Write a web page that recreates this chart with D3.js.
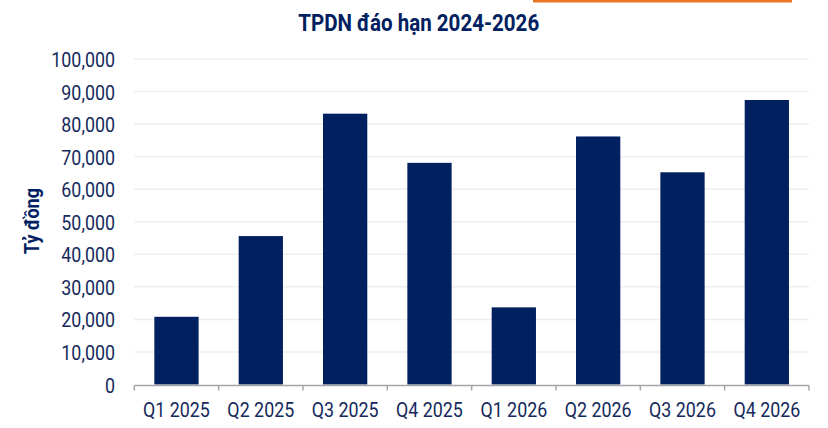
<!DOCTYPE html>
<html>
<head>
<meta charset="utf-8">
<script src="https://cdn.jsdelivr.net/npm/d3@7"></script>
<style>
  html, body { margin: 0; padding: 0; background: #ffffff; }
  svg { display: block; }
  text { font-family: Roboto, "Noto Sans", sans-serif; }
</style>
</head>
<body>
<svg id="chart" width="828" height="428"></svg>
<script>
const categories = ["Q1 2025", "Q2 2025", "Q3 2025", "Q4 2025", "Q1 2026", "Q2 2026", "Q3 2026", "Q4 2026"];
const values = [20800, 45600, 83200, 68100, 23700, 76200, 65200, 87400];
const yTicks = [0, 10000, 20000, 30000, 40000, 50000, 60000, 70000, 80000, 90000, 100000];
const chartTitle = "TPDN đáo hạn 2024-2026";
const yTitle = "Tỷ đồng";

(function () {
const svg = d3.select("#chart");
const mLeft = 134.3, mRight = 809, mTop = 59, mBottom = 384.5;
const navy = "#002060";
const textColor = "#14295C";

function condense(sel, ratio) {
  sel.each(function () {
    const len = this.getComputedTextLength();
    d3.select(this).attr("textLength", len * ratio).attr("lengthAdjust", "spacingAndGlyphs");
  });
}

// orange decorative line
svg.append("rect").attr("x", 533).attr("y", 0).attr("width", 259).attr("height", 2.5).attr("fill", "#E87722");

const x = d3.scaleBand().domain(categories).range([mLeft, mRight]).paddingInner(0.475).paddingOuter(0.2375);
const y = d3.scaleLinear().domain([0, 100000]).range([mBottom, mTop]);

// gridlines
svg.append("g").selectAll("line").data(yTicks.filter(d => d > 0)).join("line")
  .attr("x1", mLeft).attr("x2", mRight)
  .attr("y1", d => y(d)).attr("y2", d => y(d))
  .attr("stroke", "#EEEEEE").attr("stroke-width", 1.5);

// y axis labels
const yAxis = d3.axisLeft(y).tickValues(yTicks).tickFormat(d3.format(",")).tickSize(0).tickPadding(0);
const gy = svg.append("g").attr("transform", "translate(115,0)").call(yAxis);
gy.select(".domain").remove();
gy.selectAll("text").attr("fill", textColor).attr("font-size", 21).attr("dy", "0.36em")
  .call(condense, 0.85);

// bars
svg.append("g").selectAll("rect").data(values).join("rect")
  .attr("x", (d, i) => x(categories[i]))
  .attr("width", x.bandwidth())
  .attr("y", d => y(d))
  .attr("height", d => y(0) - y(d))
  .attr("fill", navy);

// x axis line and boundary ticks
const ax = svg.append("g");
ax.append("line").attr("x1", mLeft).attr("x2", mRight).attr("y1", 385.5).attr("y2", 385.5)
  .attr("stroke", "#A6A6A6").attr("stroke-width", 1.5);
const bounds = categories.map(c => x(c) - x.step() * x.paddingInner() / 2).concat([mRight]);
bounds[0] = mLeft;
ax.selectAll("line.tk").data(bounds).join("line").attr("class", "tk")
  .attr("x1", d => d).attr("x2", d => d).attr("y1", 385.5).attr("y2", 390.5)
  .attr("stroke", "#A6A6A6").attr("stroke-width", 1.5);

// x labels
svg.append("g").selectAll("text").data(categories).join("text")
  .attr("x", d => x(d) + x.bandwidth() / 2)
  .attr("y", 417.3)
  .attr("text-anchor", "middle")
  .attr("fill", textColor).attr("font-size", 21)
  .text(d => d)
  .call(condense, 0.85);

// title
svg.append("text").attr("x", 418.7).attr("y", 30.7).attr("text-anchor", "middle")
  .attr("fill", navy).attr("font-size", 24).attr("font-weight", "bold")
  .text(chartTitle)
  .attr("textLength", 241).attr("lengthAdjust", "spacingAndGlyphs");

// y title
svg.append("text").attr("transform", "translate(38.5,221) rotate(-90)")
  .attr("text-anchor", "middle").attr("fill", navy).attr("font-size", 20).attr("font-weight", "bold")
  .text(yTitle)
  .attr("textLength", 66).attr("lengthAdjust", "spacingAndGlyphs");
})();
</script>
</body>
</html>
